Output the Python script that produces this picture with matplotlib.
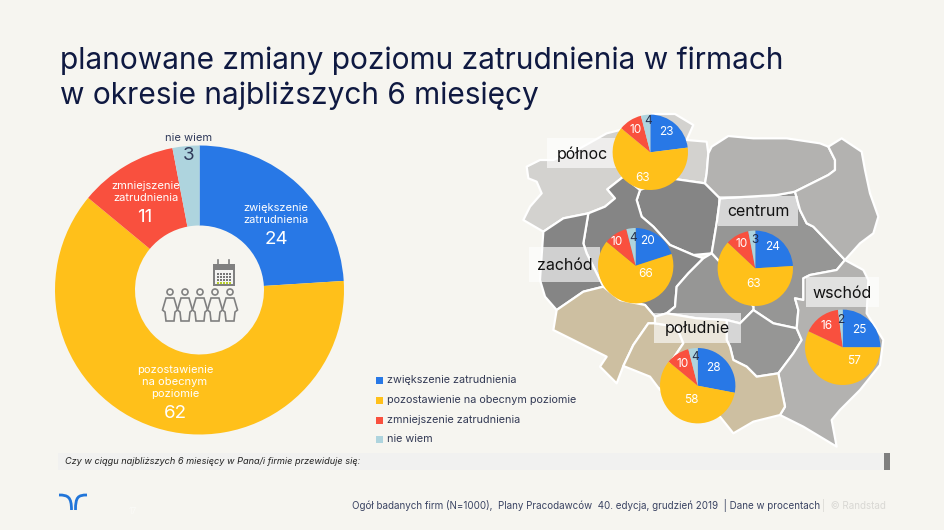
import numpy as np
import matplotlib
matplotlib.use('Agg')
import matplotlib.pyplot as plt
from matplotlib.patches import Polygon, Rectangle, Circle, PathPatch
from matplotlib.path import Path

plt.rcParams['font.family'] = ['Inter', 'DejaVu Sans']

BG = '#f6f5f0'
NAVY = '#0f1941'
COLORS = ['#2878e6', '#ffc01a', '#f9503e', '#aed4de']

# chart values
answers = ['zwiększenie zatrudnienia', 'pozostawienie na obecnym poziomie',
           'zmniejszenie zatrudnienia', 'nie wiem']
total = [24, 62, 11, 3]
total_labels = ['zwiększenie\nzatrudnienia', 'pozostawienie\nna obecnym\npoziomie',
                'zmniejszenie\nzatrudnienia', 'nie wiem']
regions = ['północ', 'zachód', 'centrum', 'wschód', 'południe']
polnoc = [23, 63, 10, 4]
zachod = [20, 66, 10, 4]
centrum = [24, 63, 10, 3]
wschod = [25, 57, 16, 2]
poludnie = [28, 58, 10, 4]
region_values = [polnoc, zachod, centrum, wschod, poludnie]

# layout in px of the 945x530 picture
pie_centers = [(650.3, 152.3), (635.7, 265.7), (755.3, 268.3), (842.7, 347.3), (697.7, 385.7)]
pie_label_offsets = [
    [(16, -20), (-8, 26), (-15, -22), (-2, -31)],
    [(12, -25), (10, 8), (-19, -24), (-3, -28)],
    [(17, -21), (-2, 16), (-14, -24), (0, -28)],
    [(17, -17), (11, 14), (-16, -21), (-2, -27)],
    [(16, -18), (-6, 14), (-15, -22), (-3, -29)],
]
label_boxes = [(547, 138, 70, 30), (529, 247, 71, 35), (718, 196, 80, 30), (806, 277, 73, 30), (654, 313, 87, 30)]


def zoomed(pts):
    return [(x / 3 + 520, y / 3 + 110) for x, y in pts]


map_light = [
    [(20, 170), (60, 150), (100, 150), (180, 115), (260, 70), (300, 60), (310, 200), (262, 238), (285, 265),
     (255, 290), (205, 310), (130, 325), (70, 365), (10, 330), (30, 290), (65, 250), (50, 215), (25, 205)],
    [(300, 60), (400, 12), (465, 12), (520, 45), (500, 90), (560, 95), (565, 130), (560, 190), (555, 220),
     (450, 205), (360, 240), (310, 200)],
]
map_dark = [
    [(360, 240), (450, 205), (555, 220), (600, 265), (590, 340), (575, 430), (520, 435), (450, 405),
     (400, 350), (365, 320), (350, 270)],
    [(262, 238), (310, 200), (360, 240), (350, 270), (365, 320), (400, 350), (450, 405), (520, 435), (550, 445),
     (505, 490), (470, 530), (465, 590), (440, 610), (405, 620), (375, 585), (300, 570), (250, 530), (200, 430),
     (190, 400), (205, 310), (255, 290), (285, 265)],
    [(205, 310), (190, 400), (200, 430), (250, 530), (190, 545), (110, 600), (75, 560), (60, 510), (70, 365), (130, 325)],
]
map_mid = [
    [(600, 265), (770, 255), (825, 245), (840, 300), (860, 340), (880, 350), (975, 450), (950, 480),
     (870, 495), (850, 505), (850, 570), (825, 565), (835, 600), (830, 655), (760, 640), (700, 600), (700, 590),
     (640, 500), (575, 430), (590, 340)],
    [(575, 430), (640, 500), (700, 590), (700, 600), (660, 640), (620, 630), (530, 625), (440, 610), (465, 590),
     (470, 530), (505, 490), (550, 445)],
    [(700, 600), (760, 640), (830, 655), (845, 690), (820, 730), (775, 790), (710, 800), (680, 770), (640, 750),
     (630, 710), (620, 690), (620, 630), (660, 640)],
]
map_pale = [
    [(565, 130), (575, 110), (625, 78), (700, 85), (800, 85), (900, 100), (925, 110), (945, 150), (945, 180), (925, 195),
     (825, 245), (770, 255), (600, 265), (555, 220), (560, 190)],
    [(925, 110), (965, 85), (1025, 125), (1035, 180), (1050, 250), (1075, 320), (1060, 370), (1020, 400), (975, 450),
     (880, 350), (860, 340), (840, 300), (825, 245), (925, 195), (945, 180), (945, 150)],
    [(850, 505), (870, 495), (950, 480), (975, 450), (1030, 480), (1045, 510), (1040, 610), (1090, 690), (1080, 765),
     (1020, 840), (990, 870), (960, 900), (935, 930), (950, 1010), (900, 980), (850, 950), (780, 915), (795, 890),
     (775, 790), (820, 730), (845, 690), (830, 655), (835, 600), (825, 565), (850, 570)],
]
map_tan = [
    [(110, 600), (190, 545), (250, 530), (300, 570), (375, 585), (405, 620), (405, 640), (385, 640), (340, 705),
     (310, 768), (290, 820), (240, 770), (260, 740), (180, 700), (100, 660)],
    [(385, 640), (405, 640), (470, 650), (490, 700), (450, 760), (420, 840), (390, 800), (310, 768), (340, 705)],
    [(405, 620), (440, 610), (530, 625), (620, 630), (620, 690), (630, 710), (640, 750), (680, 770), (710, 800), (775, 790),
     (795, 890), (780, 915), (700, 935), (640, 970), (600, 920), (500, 860), (420, 840), (450, 760), (490, 700),
     (470, 650), (405, 640)],
]

fig = plt.figure(figsize=(9.45, 5.3), dpi=100, facecolor=BG)


def px_axes(zorder):
    a = fig.add_axes([0, 0, 1, 1], zorder=zorder)
    a.set_xlim(0, 945)
    a.set_ylim(530, 0)
    a.axis('off')
    a.patch.set_alpha(0)
    return a


base = px_axes(1)
top = px_axes(5)


def pie_axes(cx, cy, r):
    return fig.add_axes([(cx - r) / 945, 1 - (cy + r) / 530, 2 * r / 945, 2 * r / 530], zorder=3)


# title
base.text(60, 60.5, 'planowane zmiany poziomu zatrudnienia w firmach', fontsize=21.5, color=NAVY, va='center')
base.text(60, 95.5, 'w okresie najbliższych 6 miesięcy', fontsize=21.5, color=NAVY, va='center')

# big donut
ax = pie_axes(199.5, 290, 144.5)
ax.pie(total, colors=COLORS, startangle=90, counterclock=False, radius=1,
       wedgeprops=dict(width=80 / 144.5, linewidth=0))
ax.set_xlim(-1, 1)
ax.set_ylim(-1, 1)

donut_text = [(276, 214), (175, 382), (146, 192), (189, 138)]
donut_vals = [(276, 239), (175, 413), (145, 217), (189, 156)]
for i in range(4):
    c = 'white' if i < 3 else '#303a5a'
    top.text(*donut_text[i], total_labels[i], color=c, fontsize=8, ha='center', va='center', linespacing=1.3)
    top.text(*donut_vals[i], str(total[i]), color=c, fontsize=13.5, ha='center', va='center')

# people icon
GREY = '#808080'
for cx in [170, 185, 200, 215, 230]:
    top.add_patch(Circle((cx, 292), 3, fc='none', ec=GREY, lw=1.2))
    body = [(-4, 298), (4, 298), (7.5, 310), (5, 312), (4, 321), (-4, 321), (-5, 312), (-7.5, 310)]
    top.add_patch(Polygon([(cx + x, y) for x, y in body], closed=True, fc=BG, ec=GREY, lw=1.2))
top.add_patch(Rectangle((213, 264), 22, 22, fc=GREY, ec='none'))
top.add_patch(Rectangle((215, 270), 18, 14, fc='#f4f4f2', ec='none'))
for x in [218, 229]:
    top.plot([x, x], [260, 266], color=GREY, lw=1.2)
for row, y in enumerate([273, 276, 279, 282]):
    for x in range(217, 232, 3):
        top.add_patch(Rectangle((x, y), 2, 1.8, fc='#b7cf2a' if row == 3 else '#777777', ec='none'))

# map
for group, col in [(map_light, '#d3d2cf'), (map_dark, '#858585'), (map_mid, '#969695'),
                   (map_pale, '#b3b2b0'), (map_tan, '#cdbfa1')]:
    for poly in group:
        base.add_patch(Polygon(zoomed(poly), closed=True, fc=col, ec='white', lw=1.6, joinstyle='round'))

# region labels
for name, (x, y, w, h) in zip(regions, label_boxes):
    base.add_patch(Rectangle((x, y), w, h, fc='white', ec='none', alpha=0.62, zorder=4))
    top.text(x + w / 2, y + h / 2 + 1, name, fontsize=11.5, color='#111111', ha='center', va='center')

# region pies
for vals, (cx, cy), offs in zip(region_values, pie_centers, pie_label_offsets):
    a = pie_axes(cx, cy, 37.7)
    a.pie(vals, colors=COLORS, startangle=90, counterclock=False, radius=1, wedgeprops=dict(linewidth=0))
    a.set_xlim(-1, 1)
    a.set_ylim(-1, 1)
    for i, (v, (dx, dy)) in enumerate(zip(vals, offs)):
        top.text(cx + dx, cy + dy, str(v), fontsize=8.5, ha='center', va='center',
                 color='white' if i < 3 else '#25304f')

# legend
for i, (name, y) in enumerate(zip(answers, [380, 400, 420, 439])):
    top.add_patch(Rectangle((376, y - 3.5), 7, 7, fc=COLORS[i], ec='none'))
    top.text(387, y, name, fontsize=7.8, color='#333a55', va='center')

# question strip
base.add_patch(Rectangle((58, 453), 826, 17, fc='#f1f1f0', ec='none'))
base.add_patch(Rectangle((884, 453), 6, 17, fc='#7f7f7f', ec='none'))
base.text(65, 461.5, 'Czy w ciągu najbliższych 6 miesięcy w Pana/i firmie przewiduje się:', fontsize=6.6,
          style='italic', color='#222222', va='center')

# footer
base.text(820, 506, 'Ogół badanych firm (N=1000),  Plany Pracodawców  40. edycja, grudzień 2019  | Dane w procentach',
          fontsize=7.05, color='#3b4463', ha='right', va='center')
base.text(886, 506, '|  © Randstad', fontsize=7.05, color='#d9d8d4', ha='right', va='center')
base.text(133, 512, '17', fontsize=6, color='#fbfbf8', ha='center', va='center')

# logo
left = Path([(59, 495), (68, 495), (71.5, 497), (71.5, 510)], [Path.MOVETO, Path.CURVE4, Path.CURVE4, Path.CURVE4])
right = Path([(87, 495), (78, 495), (75.5, 497), (75.5, 510)], [Path.MOVETO, Path.CURVE4, Path.CURVE4, Path.CURVE4])
for p in (left, right):
    base.add_patch(PathPatch(p, fc='none', ec='#2175d9', lw=2, capstyle='butt'))

fig.savefig('out.png', dpi=100, facecolor=BG)
